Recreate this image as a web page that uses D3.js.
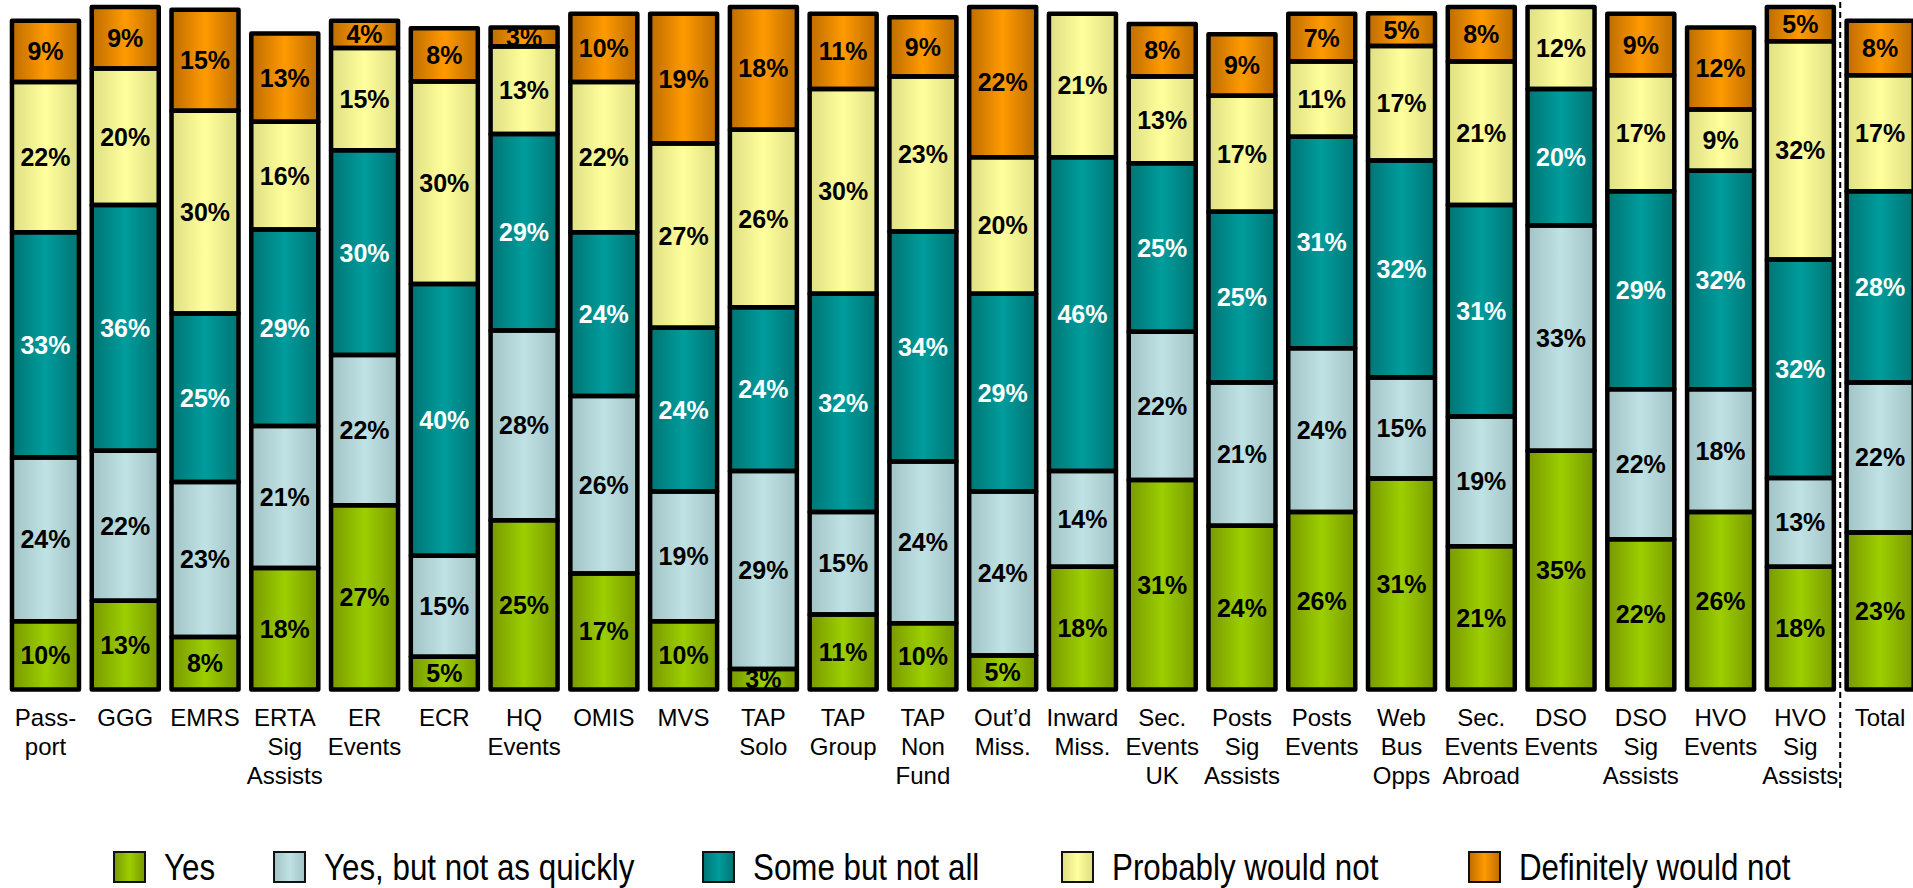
<!DOCTYPE html>
<html>
<head>
<meta charset="utf-8">
<script src="https://cdn.jsdelivr.net/npm/d3@7"></script>
<style>
  html, body { margin: 0; padding: 0; background: #fff; }
  svg { display: block; font-family: "Liberation Sans", Arial, sans-serif; }
</style>
</head>
<body>
<svg id="chart" width="1913" height="888"></svg>
<script>
// categories (label lines split with |)
const categories = ['Pass-|port', 'GGG', 'EMRS', 'ERTA|Sig|Assists', 'ER|Events', 'ECR', 'HQ|Events',
  'OMIS', 'MVS', 'TAP|Solo', 'TAP|Group', 'TAP|Non|Fund', 'Out\u2019d|Miss.', 'Inward|Miss.',
  'Sec.|Events|UK', 'Posts|Sig|Assists', 'Posts|Events', 'Web|Bus|Opps', 'Sec.|Events|Abroad',
  'DSO|Events', 'DSO|Sig|Assists', 'HVO|Events', 'HVO|Sig|Assists', 'Total'];

const seriesNames = ['Yes', 'Yes, but not as quickly', 'Some but not all', 'Probably would not', 'Definitely would not'];

const yes        = [10, 13, 7.7, 17.8, 27, 4.8, 24.8, 17, 10, 3, 11, 9.7, 5, 18, 30.7, 24, 26, 30.9, 21, 35, 22, 26, 18, 23];
const quickly    = [24, 22, 22.7, 20.8, 22, 14.8, 27.8, 26, 19, 29, 15, 23.7, 24, 14, 21.7, 21, 24, 14.8, 19, 33, 22, 18, 13, 22];
const someNotAll = [33, 36, 24.7, 28.8, 30, 39.8, 28.8, 24, 24, 24, 32, 33.7, 29, 46, 24.7, 25, 31, 31.8, 31, 20, 29, 32, 32, 28];
const probNot    = [22, 20, 29.7, 15.8, 15, 29.7, 12.8, 22, 27, 26, 30, 22.7, 20, 21, 12.7, 17, 11, 16.8, 21, 12, 17, 9, 32, 17];
const defNot     = [9, 9, 14.8, 12.9, 4, 7.8, 2.8, 10, 19, 18, 11, 8.7, 22, 0, 7.7, 9, 7, 4.8, 8, 0, 9, 12, 5, 8];

const seriesValues = [yes, quickly, someNotAll, probNot, defNot];

// colours: [edge, centre], and label colour
const colors = [['#789800', '#9ccf00'], ['#a2c3c6', '#bfe2e5'], ['#007474', '#009c9c'], ['#dede84', '#ffff9c'], ['#bd6c00', '#ff9a00']];
const textColors = ['#000', '#000', '#fff', '#000', '#000'];

const svg = d3.select('#chart');

// rows for the stack
const rows = categories.map((c, i) => {
  const r = { cat: c };
  seriesNames.forEach((s, j) => { r[s] = seriesValues[j][i]; });
  return r;
});
const stacked = d3.stack().keys(seriesNames)(rows);

const x = d3.scaleBand().domain(categories).range([5.6, 1920]).paddingInner(0.16).paddingOuter(0.08);
const y = d3.scaleLinear().domain([0, 100]).range([689.5, 7]);

// gradients
const defs = svg.append('defs');
colors.forEach((c, i) => {
  const g = defs.append('linearGradient').attr('id', 'grad' + i)
    .attr('x1', 0).attr('x2', 1).attr('y1', 0).attr('y2', 0);
  g.append('stop').attr('offset', '0%').attr('stop-color', c[0]);
  g.append('stop').attr('offset', '50%').attr('stop-color', c[1]);
  g.append('stop').attr('offset', '100%').attr('stop-color', c[0]);
});

const shown = layer => layer.filter(p => p[1] - p[0] > 0);

// fills
stacked.forEach((layer, i) => {
  svg.append('g').selectAll('rect')
    .data(shown(layer))
    .enter().append('rect')
    .attr('x', d => x(d.data.cat))
    .attr('y', d => y(d[1]))
    .attr('width', x.bandwidth())
    .attr('height', d => y(d[0]) - y(d[1]))
    .attr('fill', 'url(#grad' + i + ')');
});

// value labels
stacked.forEach((layer, i) => {
  svg.append('g').selectAll('text')
    .data(shown(layer))
    .enter().append('text')
    .attr('x', d => x(d.data.cat) + x.bandwidth() / 2)
    .attr('y', d => (y(d[0]) + y(d[1])) / 2)
    .attr('dy', '0.36em')
    .attr('text-anchor', 'middle')
    .attr('font-size', '25px')
    .attr('font-weight', 'bold')
    .attr('fill', textColors[i])
    .text(d => Math.round(d[1] - d[0]) + '%');
});

// borders on top
stacked.forEach(layer => {
  svg.append('g').selectAll('rect')
    .data(shown(layer))
    .enter().append('rect')
    .attr('x', d => x(d.data.cat))
    .attr('y', d => y(d[1]))
    .attr('width', x.bandwidth())
    .attr('height', d => y(d[0]) - y(d[1]))
    .attr('fill', 'none')
    .attr('stroke', '#000')
    .attr('stroke-width', 4.5)
    .attr('stroke-linejoin', 'round');
});

// category labels
const catLabels = svg.append('g').selectAll('text')
  .data(categories)
  .enter().append('text')
  .attr('x', d => x(d) + x.bandwidth() / 2)
  .attr('y', 725.7)
  .attr('text-anchor', 'middle')
  .attr('font-size', '24px')
  .attr('fill', '#000');
catLabels.each(function (d) {
  const t = d3.select(this);
  d.split('|').forEach((line, k) => {
    t.append('tspan').attr('x', x(d) + x.bandwidth() / 2).attr('dy', k === 0 ? 0 : 29).text(line);
  });
});

// dashed separator before Total
const sepX = (x('HVO|Sig|Assists') + x.bandwidth() + x('Total')) / 2;
svg.append('line')
  .attr('x1', sepX).attr('x2', sepX)
  .attr('y1', 2).attr('y2', 792)
  .attr('stroke', '#000').attr('stroke-width', 2)
  .attr('stroke-dasharray', '6,4');

// legend
const legendX = [113, 273, 702, 1061, 1468];
const legend = svg.append('g').selectAll('g')
  .data(seriesNames)
  .enter().append('g')
  .attr('transform', (d, i) => 'translate(' + legendX[i] + ',851)');
legend.append('rect')
  .attr('x', 1).attr('y', 1)
  .attr('width', 31).attr('height', 30)
  .attr('fill', (d, i) => 'url(#grad' + i + ')')
  .attr('stroke', '#111').attr('stroke-width', 2);
legend.append('text')
  .attr('transform', 'translate(51,29) scale(0.87,1)')
  .attr('font-size', '36px')
  .attr('fill', '#000')
  .text(d => d);
</script>
</body>
</html>
